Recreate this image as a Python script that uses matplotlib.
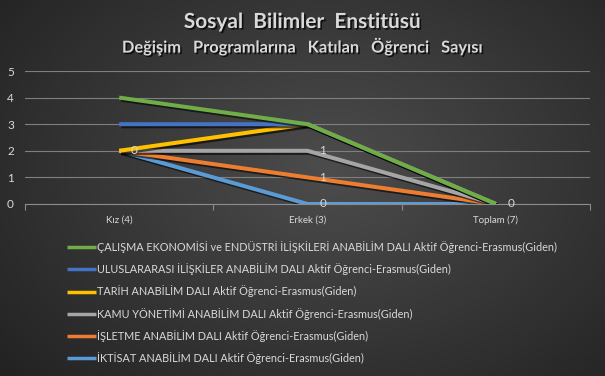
import numpy as np
import matplotlib
matplotlib.use("Agg")
import matplotlib.pyplot as plt
import matplotlib.patheffects as pe

plt.rcParams['font.family'] = ['Lato', 'DejaVu Sans']

categories = ["Kız (4)", "Erkek (3)", "Toplam (7)"]

# Stack order bottom -> top (drawn in this order)
series_names = [
    "İKTİSAT ANABİLİM DALI Aktif Öğrenci-Erasmus(Giden)",
    "İŞLETME ANABİLİM DALI Aktif Öğrenci-Erasmus(Giden)",
    "KAMU YÖNETİMİ ANABİLİM DALI Aktif Öğrenci-Erasmus(Giden)",
    "TARİH ANABİLİM DALI Aktif Öğrenci-Erasmus(Giden)",
    "ULUSLARARASI İLİŞKİLER ANABİLİM DALI Aktif Öğrenci-Erasmus(Giden)",
    "ÇALIŞMA EKONOMİSİ ve ENDÜSTRİ İLİŞKİLERİ ANABİLİM DALI Aktif Öğrenci-Erasmus(Giden)",
]
iktisat = [2, 0, 0]
isletme = [0, 1, 0]
kamu = [0, 1, 0]
tarih = [0, 1, 0]
uluslararasi = [1, 0, 0]
calisma = [1, 0, 0]
series_values = [iktisat, isletme, kamu, tarih, uluslararasi, calisma]
series_colors = ["#5b9bd5", "#ed7d31", "#a5a5a5", "#ffc000", "#4472c4", "#70ad47"]

# which points carry a value label, per series
label_points = [[1], [1], [0, 1, 2], [], [], []]

W, H = 605, 376
fig = plt.figure(figsize=(W / 100, H / 100), dpi=100)

# dark radial background
bg = fig.add_axes([0, 0, 1, 1], zorder=-10)
yy, xx = np.mgrid[0:H, 0:W]
r = np.sqrt(((xx - 330) / 420) ** 2 + ((yy - 170) / 300) ** 2)
g = np.clip(0.30 - 0.16 * r, 0.13, 0.30)
bg.imshow(np.dstack([g, g, g]), extent=[0, 1, 0, 1], aspect="auto", origin="upper")
bg.set_axis_off()

ax = fig.add_axes([25 / W, 1 - 204 / H, 565 / W, 133 / H])
ax.patch.set_alpha(0)

txt_col = "#d9d9d9"
x = np.arange(len(categories))
cum = np.zeros(len(categories))
shadow = [pe.SimpleLineShadow(offset=(1.5, -1.5), shadow_color="black", alpha=0.6), pe.Normal()]
handles = []
for i, (name, vals, col) in enumerate(zip(series_names, series_values, series_colors)):
    cum = cum + np.array(vals)
    ln, = ax.plot(x, cum, color=col, lw=2.9, solid_capstyle="butt",
                  solid_joinstyle="miter", zorder=3 + i, path_effects=shadow, label=name)
    handles.append(ln)
    for j in label_points[i]:
        ax.annotate(str(vals[j]), (x[j], cum[j]), xytext=(11, 0), textcoords="offset points",
                    ha="center", va="center", color=txt_col, fontsize=8.5, zorder=20)

ax.set_xlim(-0.5, 2.5)
ax.set_ylim(0, 5)
ax.set_yticks(range(0, 6))
ax.set_xticks(x)
ax.set_xticklabels(categories)
ax.set_xticks([-0.5, 0.5, 1.5, 2.5], minor=True)
ax.grid(axis="y", color="#7f7f7f", lw=0.8)
ax.set_axisbelow(True)
for s in ["top", "right", "left"]:
    ax.spines[s].set_visible(False)
ax.spines["bottom"].set_color("#8c8c8c")
ax.spines["bottom"].set_linewidth(0.8)
ax.tick_params(axis="x", which="major", length=0, colors=txt_col, labelsize=7, pad=8)
ax.tick_params(axis="x", which="minor", length=4, color="#8c8c8c", width=0.8)
ax.tick_params(axis="y", length=0, colors=txt_col, labelsize=8.5, pad=8)

title_fx = [pe.SimplePatchShadow(offset=(1.2, -1.2), shadow_rgbFace="black", alpha=0.7), pe.Normal()]
fig.text(0.5, 1 - 22 / H, "Sosyal  Bilimler  Enstitüsü", ha="center", va="center",
         color=txt_col, fontsize=15, fontweight="bold", path_effects=title_fx)
fig.text(0.5, 1 - 47 / H, "Değişim   Programlarına   Katılan   Öğrenci   Sayısı", ha="center",
         va="center", color=txt_col, fontsize=11.8, fontweight="bold", path_effects=title_fx)

leg = fig.legend(handles[::-1], [h.get_label() for h in handles[::-1]],
                 loc="upper left", bbox_to_anchor=(67 / W, 1 - 241 / H), frameon=False,
                 fontsize=7.8, labelcolor=txt_col, handlelength=2.7, handletextpad=0.1,
                 labelspacing=0.95, borderaxespad=0, borderpad=0)
for lh in leg.get_lines():
    lh.set_linewidth(2.5)
    lh.set_path_effects([])

fig.savefig("out.png", dpi=100)
